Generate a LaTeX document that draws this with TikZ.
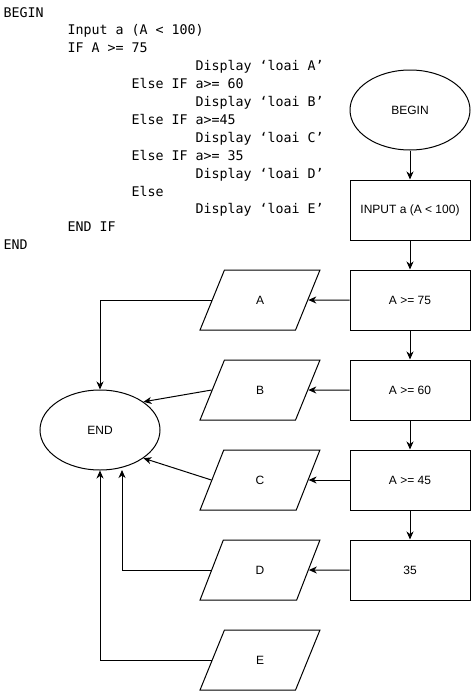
\documentclass[tikz,border=0pt]{standalone}
\usepackage{fontspec}
\setmainfont{Liberation Sans}
\newfontfamily\codefont{DejaVu Sans Mono}
\usetikzlibrary{shapes.geometric,arrows.meta,calc}
\begin{document}
\begin{tikzpicture}[x=1pt,y=-1pt,
  line width=1pt,
  codeline/.style={anchor=base west,inner sep=0pt,font=\codefont\fontsize{13.3}{15}\selectfont},
  flowtext/.style={font=\fontsize{12}{14}\selectfont},
  termbox/.style={ellipse,draw,minimum width=120pt,minimum height=80pt,inner sep=0pt,flowtext},
  procbox/.style={rectangle,draw,minimum width=120pt,minimum height=60pt,inner sep=0pt,flowtext},
  iobox/.style={trapezium,draw,trapezium left angle=71.57,trapezium right angle=108.43,
     trapezium stretches=true,minimum width=120pt,minimum height=60pt,inner sep=0pt,flowtext},
  arr/.style={-{Stealth[length=8pt,width=7pt,inset=2.5pt]}}]
\useasboundingbox (0,0) rectangle (471,691);
% pseudocode
\node[codeline] (c0) at (3,17) {BEGIN};
\node[codeline] (c1) at (67,34.9) {Input a (A < 100)};
\node[codeline] (c2) at (67,52.8) {IF A >= 75};
\node[codeline] (c3) at (195,70.7) {Display ‘loai A’};
\node[codeline] (c4) at (131,88.6) {Else IF a>= 60};
\node[codeline] (c5) at (195,106.5) {Display ‘loai B’};
\node[codeline] (c6) at (131,124.4) {Else IF a>=45};
\node[codeline] (c7) at (195,142.3) {Display ‘loai C’};
\node[codeline] (c8) at (131,160.2) {Else IF a>= 35};
\node[codeline] (c9) at (195,178.1) {Display ‘loai D’};
\node[codeline] (c10) at (131,196) {Else};
\node[codeline] (c11) at (195,213.9) {Display ‘loai E’};
\node[codeline] (c12) at (67,231.8) {END IF};
\node[codeline] (c13) at (3,249.7) {END};
% flowchart
\node[termbox] (begin) at (410,110) {BEGIN};
\node[procbox] (input) at (410,210) {INPUT a (A < 100)};
\node[procbox] (q75) at (410,300) {A >= 75};
\node[procbox] (q60) at (410,390) {A >= 60};
\node[procbox] (q45) at (410,480) {A >= 45};
\node[procbox] (q35) at (410,570) {35};
\node[iobox] (pA) at (260,300) {A};
\node[iobox] (pB) at (260,390) {B};
\node[iobox] (pC) at (260,480) {C};
\node[iobox] (pD) at (260,570) {D};
\node[iobox] (pE) at (260,660) {E};
\node[termbox] (endN) at (100,430) {END};
\coordinate (endD) at (122,470);
\draw[arr] (begin) -- (input);
\draw[arr] (input) -- (q75);
\draw[arr] (q75) -- (q60);
\draw[arr] (q60) -- (q45);
\draw[arr] (q45) -- (q35);
\draw[arr] (q75.west) -- (pA.east);
\draw[arr] (q60.west) -- (pB.east);
\draw[arr] (q45.west) -- (pC.east);
\draw[arr] (q35.west) -- (pD.east);
\draw[arr] (pA.west) -| (endN.north);
\draw[arr] (pB.west) -- (endN.33);
\draw[arr] (pC.west) -- (endN.-33);
\draw[arr] (pD.west) -| (endD);
\draw[arr] (pE.west) -| (endN.south);
\end{tikzpicture}
\end{document}
